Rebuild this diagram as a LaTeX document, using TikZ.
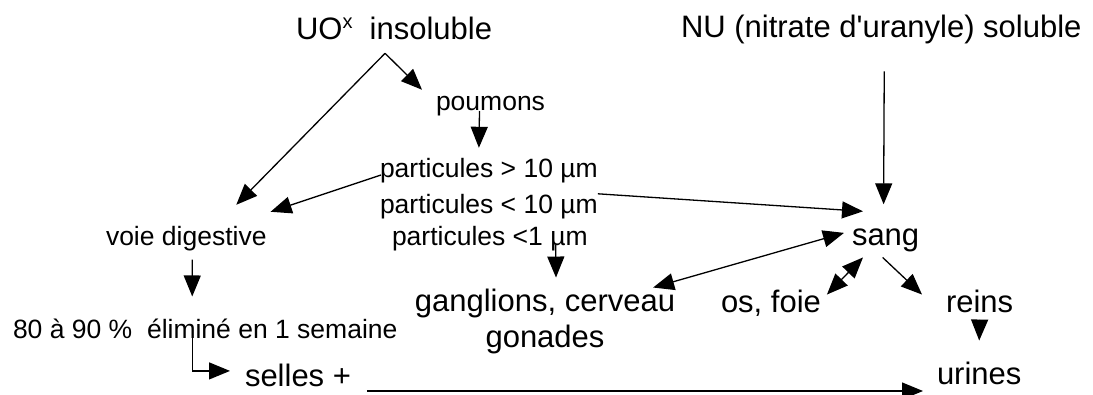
\documentclass[tikz,border=0pt]{standalone}
\usepackage{fontspec}
\setmainfont{Liberation Sans}
\usetikzlibrary{arrows.meta}

\newcommand{\grand}{\fontsize{31}{36}\selectfont}
\newcommand{\petit}{\fontsize{26.5}{32}\selectfont}
\newcommand{\expx}{\raisebox{11pt}{\fontsize{20}{20}\selectfont x}}

\tikzset{
  lab/.style={inner sep=0pt, outer sep=0pt, anchor=base west},
  arr/.style={line width=1.3pt, -{Triangle[length=21pt,width=17pt]}},
  darr/.style={line width=1.3pt, {Triangle[length=21pt,width=17pt]}-{Triangle[length=21pt,width=17pt]}},
}

\begin{document}
\begin{tikzpicture}[x=1pt, y=-1pt]
  \useasboundingbox (0,0) rectangle (1093,394);

  % Sources
  \node[lab, font=\grand] (uo) at (296,39) {UO\expx\ \ insoluble};
  \node[lab, font=\grand] (nu) at (681,37) {NU (nitrate d\textquotesingle uranyle) soluble};

  % Lungs and particle sizes
  \node[lab, font=\petit] (poumons) at (436,110) {poumons};
  \node[lab, font=\petit] (p1) at (380,177) {particules > 10 µm};
  \node[lab, font=\petit] (p2) at (380,213) {particules < 10 µm};
  \node[lab, font=\petit] (p3) at (392,245) {particules <1 µm};

  % Digestive path
  \node[lab, font=\petit] (voie) at (106,245) {voie digestive};
  \node[lab, font=\petit] (elim) at (13,338) {80 à 90 \%\ \ éliminé en 1 semaine};
  \node[lab, font=\grand] (selles) at (245,386) {selles +};

  % Blood and organs
  \node[lab, font=\grand] (sang) at (852,245) {sang};
  \node[lab, anchor=base, font=\grand] (gang) at (545,311) {ganglions, cerveau};
  \node[lab, anchor=base, font=\grand] (gonades) at (545,347) {gonades};
  \node[lab, font=\grand] (os) at (721,312) {os, foie};
  \node[lab, font=\grand] (reins) at (946,312) {reins};
  \node[lab, font=\grand] (urines) at (937,384) {urines};

  % Arrows from the sources
  \draw[arr] ([shift={(-9,14)}]uo.south) -- ([shift={(-14,-6)}]poumons.north west);
  \draw[arr] ([shift={(-9,14)}]uo.south) -- ([shift={(50,-21)}]voie.north);
  \draw[arr] ([shift={(3,28)}]nu.south) -- ([shift={(-2,-24)}]sang.north);

  % Lungs
  \draw[arr] ([shift={(-11,1)}]poumons.base) -- ([shift={(-10,-10)}]p1.north);
  \draw[arr] ([shift={(1,-2)}]p1.base west) -- ([shift={(4,-14)}]voie.north east);
  \draw[arr] (p2.north east) -- ([shift={(11,-17)}]sang.north west);
  \draw[arr] ([shift={(-32,0)}]p3.base east) -- ([shift={(11,-11)}]gang.north);

  % Blood exchanges
  \draw[darr] ([shift={(-8,-7)}]sang.west) -- ([shift={(-22,-1)}]gang.north east);
  \draw[darr] ([shift={(11,6)}]sang.south west) -- ([shift={(6,5)}]os.north east);
  \draw[arr] ([shift={(-3,6)}]sang.south) -- ([shift={(-24,5)}]reins.north west);
  \draw[arr] ([shift={(0,8)}]reins.south) -- ([shift={(0,-21)}]urines.north);

  % Elimination
  \draw[arr] ([shift={(6,9)}]voie.south) -- ([shift={(-13,-22)}]elim.north);
  \draw[arr] ([shift={(-13,-6)}]elim.base) |- ([shift={(-15,-4)}]selles.west);
  \draw[arr] ([shift={(16,5)}]selles.base east) -- ([shift={(-14,7)}]urines.base west);
\end{tikzpicture}
\end{document}
